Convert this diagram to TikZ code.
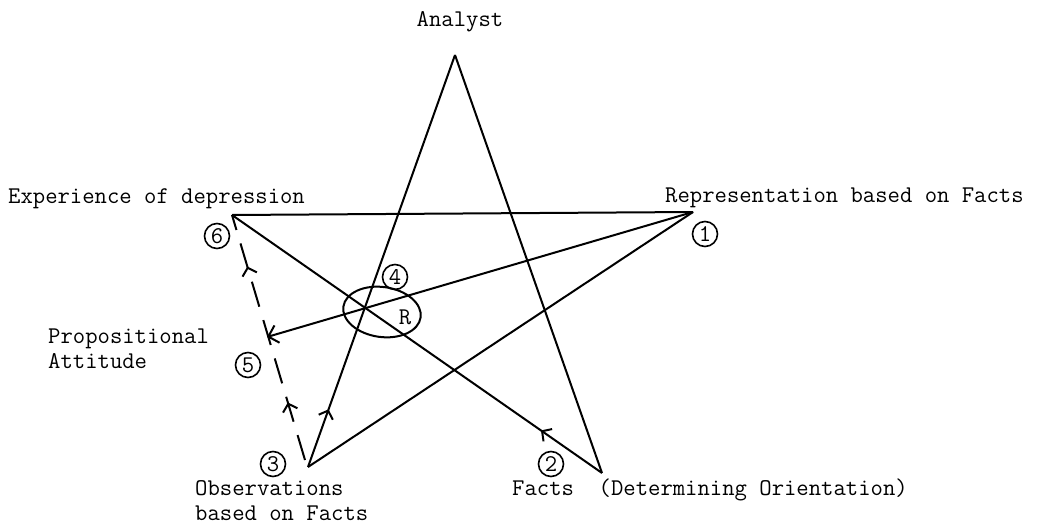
\documentclass[tikz,border=0pt]{standalone}
\usepackage{fontspec}
\usetikzlibrary{arrows.meta,decorations.markings,shapes.geometric}
\begin{document}
\begin{tikzpicture}[x=1pt,y=-1pt,
  every node/.style={font=\ttfamily\fontsize{24}{25}\selectfont},
  lbl/.style={inner sep=0pt, align=left},
  num/.style={circle, draw, line width=1.6pt, inner sep=0pt, minimum size=25pt},
  edge/.style={line width=2pt},
  midarrow/.style={postaction={decorate},decoration={markings,
     mark=at position #1 with {\arrow{Straight Barb[length=7pt,width=15pt]}}}},
  twoarrows/.style 2 args={postaction={decorate},decoration={markings,
     mark=at position #1 with {\arrow{Straight Barb[length=7pt,width=15pt]}},
     mark=at position #2 with {\arrow{Straight Barb[length=7pt,width=15pt]}}}},
  dashline/.style={line width=2pt, dash pattern=on 26pt off 14pt},
]
\useasboundingbox (0,0) rectangle (1052,527);

% vertices
\coordinate (A) at (455,55);
\coordinate (P1) at (693,212);
\coordinate (P2) at (602,473);
\coordinate (P3) at (308,467);
\coordinate (P6) at (232,215);
\coordinate (D3) at (305,460);
\coordinate (T5) at (267,337);

% labels
\node[lbl, anchor=base] (analyst) at (460,27) {Analyst};
\node[lbl, anchor=base west] (exp) at (8,203) {Experience of depression};
\node[lbl, anchor=base west] (rep) at (665,202) {Representation based on Facts};
\node[lbl, anchor=base west] (prop) at (48,368) {Propositional\\Attitude};
\node[lbl, anchor=base west] (obs) at (195,520) {Observations\\based on Facts};
\node[lbl, anchor=base west] (facts) at (512,495) {Facts\ \ (Determining Orientation)};

% circled numbers
\node[num] (n1) at (705,234) {1};
\node[num] (n2) at (551,464) {2};
\node[num] (n3) at (273,464) {3};
\node[num] (n4) at (395,277) {4};
\node[num] (n5) at (248,365) {5};
\node[num] (n6) at (217,236) {6};

% ellipse R
\node[ellipse, draw, line width=2pt, minimum width=78pt, minimum height=50pt, rotate=-8] (E) at (382,312) {};
\node (R) at (405,317) {R};

% connectors
\draw[edge] (P6) -- (P1);
\draw[edge, midarrow=0.14] (P3) -- (A);
\draw[edge] (A) -- (P2);
\draw[edge, midarrow=0.165] (P2) -- (P6);
\draw[edge] (P1) -- (P3);
\draw[edge, -{Straight Barb[length=9pt,width=18pt]}] (P1) -- (T5);
\draw[dashline, twoarrows={0.235}{0.79}] (D3) -- (P6);
\end{tikzpicture}
\end{document}
